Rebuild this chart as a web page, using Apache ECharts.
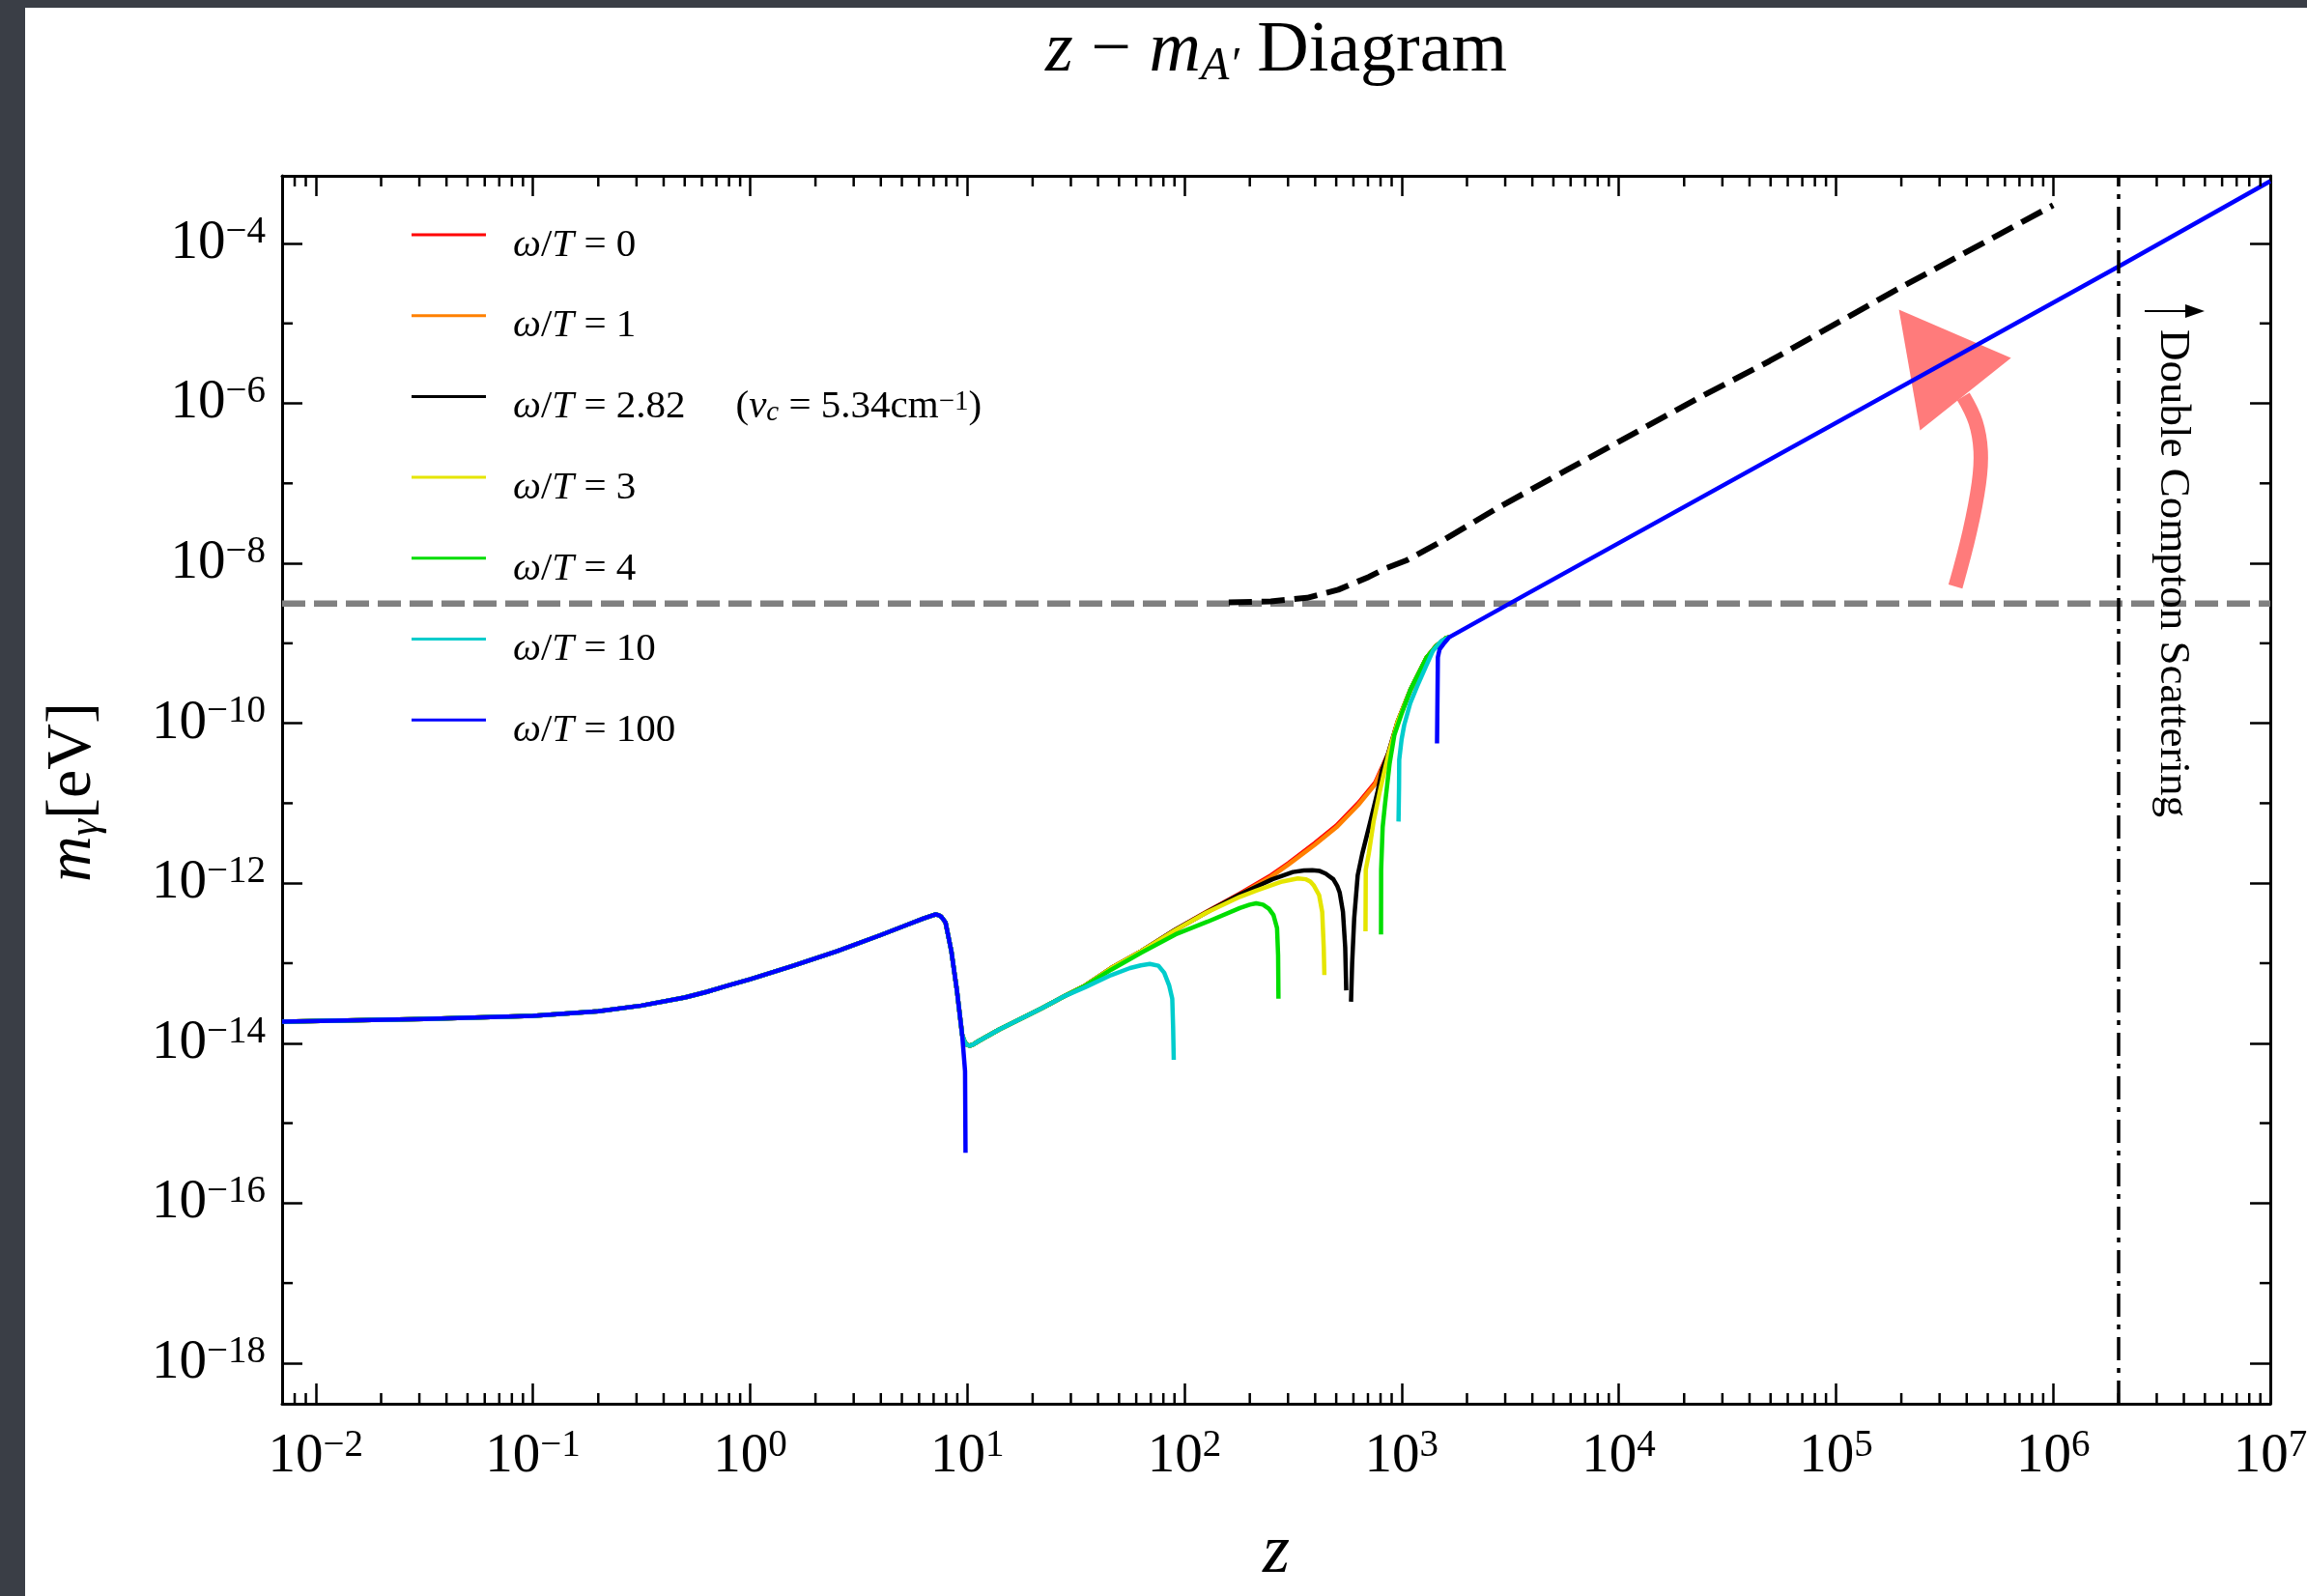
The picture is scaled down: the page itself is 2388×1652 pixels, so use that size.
<!DOCTYPE html>
<html>
<head>
<meta charset="utf-8">
<title>z - m_A' Diagram</title>
<script src="https://cdn.jsdelivr.net/npm/echarts@6/dist/echarts.min.js"></script>
<style>
  html, body { margin: 0; padding: 0; background: #3a3e46; }
  #sheet { position: absolute; left: 26px; top: 8px; width: 2362px; height: 1644px; background: #fff; }
  #main { position: absolute; left: 0; top: 0; width: 2388px; height: 1652px; }
</style>
</head>
<body>
<div id="sheet"></div>
<div id="main"></div>
<script>
var FONT = '"Liberation Serif", "DejaVu Serif", serif';
var GAP = ['-', '-'];

// axis ranges / labelled decades
var zRange = [0.007, 1e7];
var mRange = [3.1e-19, 7e-4];
var xLabelPowers = [-2, -1, 0, 1, 2, 3, 4, 5, 6, 7];
var yLabelPowers = [-18, -16, -14, -12, -10, -8, -6, -4];
var yOddPowers = [-17, -15, -13, -11, -9, -7, -5];

// values: [z, m_gamma (eV)]
// part shared by every curve up to the drop at z ~ 10
var earlyBranch = [
  [0.007, 1.86e-14], [0.0316, 2.0e-14], [0.1, 2.19e-14], [0.2, 2.51e-14], [0.316, 2.95e-14],
  [0.5, 3.72e-14], [0.63, 4.37e-14], [0.79, 5.25e-14], [1.0, 6.3e-14], [1.58, 9.3e-14],
  [2.51, 1.41e-13], [3.98, 2.24e-13], [5.25, 3.0e-13], [6.3, 3.63e-13], [6.9, 3.95e-13],
  [7.16, 4.07e-13], [7.4, 3.98e-13], [7.6, 3.8e-13], [7.94, 3.24e-13], [8.45, 1.41e-13],
  [8.97, 4.47e-14], [9.48, 1.26e-14]
];
// dip at z ~ 10 for every curve except w/T = 100
var dipBranch = [
  [9.75, 1.02e-14], [10.0, 9.5e-15], [10.28, 9.3e-15], [10.7, 9.7e-15], [11.2, 1.05e-14],
  [14.0, 1.48e-14], [22.1, 2.75e-14]
];
var redRise = [
  [28.2, 3.9e-14], [34.9, 5.25e-14], [46.0, 8.7e-14], [63.1, 1.41e-13], [91.0, 2.63e-13],
  [126, 4.37e-13], [180, 7.41e-13], [251, 1.26e-12], [301, 1.78e-12], [398, 3.16e-12],
  [501, 5.25e-12], [631, 1.0e-11], [755, 1.8e-11], [867, 4.17e-11], [959, 1.05e-10],
  [1099, 2.63e-10], [1306, 6.68e-10], [1445, 9.3e-10], [1600, 1.16e-9], [1656, 1.19e-9]
];
var orangeRise = [
  [28.2, 3.9e-14], [34.9, 5.25e-14], [46.0, 8.7e-14], [63.1, 1.41e-13], [91.0, 2.6e-13],
  [126, 4.3e-13], [180, 7.2e-13], [251, 1.21e-12], [301, 1.71e-12], [398, 3.02e-12],
  [501, 5.0e-12], [631, 9.5e-12], [755, 1.72e-11], [867, 4.0e-11], [959, 1.03e-10],
  [1099, 2.6e-10], [1306, 6.68e-10], [1445, 9.3e-10], [1600, 1.16e-9], [1656, 1.19e-9]
];
var blackRise = [
  [28.2, 3.9e-14], [34.9, 5.25e-14], [46.0, 8.7e-14], [63.1, 1.41e-13], [91.0, 2.63e-13],
  [126, 4.3e-13], [180, 7.24e-13], [254, 1.12e-12], [316, 1.38e-12], [355, 1.44e-12],
  [388, 1.45e-12], [420, 1.42e-12], [447, 1.32e-12], [485, 1.12e-12], [505, 9.3e-13],
  [519, 7.6e-13], [537, 4.37e-13], [550, 1.58e-13], [556, 4.57e-14], GAP,
  [585, 3.3e-14], [592, 1.0e-13], [605, 3.63e-13], [628, 1.26e-12], [659, 2.34e-12],
  [718, 5.9e-12], [776, 1.41e-11], [813, 2.6e-11], [867, 4.17e-11], [959, 1.05e-10],
  [1099, 2.63e-10], [1306, 6.68e-10], [1445, 9.3e-10], [1600, 1.16e-9], [1656, 1.19e-9]
];
var yellowRise = [
  [28.2, 3.9e-14], [34.9, 5.25e-14], [46.0, 8.7e-14], [63.1, 1.41e-13], [91.0, 2.6e-13],
  [126, 4.27e-13], [180, 6.76e-13], [214, 8.1e-13], [282, 1.05e-12], [333, 1.15e-12],
  [363, 1.12e-12], [380, 1.05e-12], [395, 9.3e-13], [417, 7.1e-13], [431, 4.37e-13],
  [438, 1.58e-13], [441, 7.1e-14], GAP,
  [682, 2.5e-13], [684, 1.48e-12], [706, 2.34e-12], [743, 5.9e-12], [794, 1.41e-11],
  [867, 4.0e-11], [959, 1.05e-10], [1099, 2.63e-10], [1306, 6.68e-10], [1445, 9.3e-10],
  [1600, 1.16e-9], [1656, 1.19e-9]
];
var greenRise = [
  [28.2, 3.9e-14], [34.9, 5.2e-14], [46.0, 8.3e-14], [63.1, 1.35e-13], [91.0, 2.29e-13],
  [128, 3.31e-13], [180, 4.9e-13], [200, 5.4e-13], [214, 5.6e-13], [230, 5.4e-13],
  [245, 4.8e-13], [257, 4.0e-13], [267, 2.75e-13], [270, 1.26e-13], [271, 3.6e-14], GAP,
  [804, 2.29e-13], [805, 1.48e-12], [818, 5.0e-12], [838, 9.5e-12], [881, 3.16e-11],
  [927, 7.2e-11], [1000, 1.32e-10], [1099, 2.63e-10], [1306, 6.68e-10], [1445, 9.3e-10],
  [1600, 1.16e-9], [1656, 1.19e-9]
];
var cyanRise = [
  [28.2, 3.9e-14], [34.9, 5.0e-14], [46.0, 7.1e-14], [56.2, 8.7e-14], [63.0, 9.4e-14],
  [69.3, 9.8e-14], [75.9, 9.3e-14], [80.7, 7.6e-14], [85.1, 5.25e-14], [87.9, 3.6e-14],
  [88.7, 1.58e-14], [89.3, 6.2e-15], GAP,
  [968, 5.9e-12], [973, 1.58e-11], [975, 3.5e-11], [1000, 6.3e-11], [1028, 9.5e-11],
  [1096, 1.78e-10], [1178, 2.88e-10], [1288, 5.0e-10], [1396, 8.1e-10], [1514, 1.05e-9],
  [1656, 1.19e-9]
];
var blueTail = [
  [9.77, 4.47e-15], [9.82, 4.27e-16], GAP,
  [1456, 5.6e-11], [1469, 6.7e-10], [1496, 8.4e-10], [1574, 1.01e-9], [1656, 1.19e-9],
  [3750, 4.1e-9], [2.14e6, 5.7e-5], [1e7, 6.0e-4]
];
// black dashed curve
var dashedCurve = [
  [160, 3.25e-9], [250, 3.35e-9], [367, 3.7e-9], [511, 4.68e-9], [706, 6.76e-9],
  [850, 8.7e-9], [1047, 1.08e-8], [1449, 1.74e-8], [2786, 4.98e-8], [5715, 1.45e-7],
  [24050, 1.22e-6], [49430, 3.38e-6], [182400, 2.48e-5], [1.0e6, 3.0e-4]
];
// grey dashed level
var grayLevel = [[0.007, 3.13e-9], [1e7, 3.13e-9]];
var doubleComptonZ = 2.0e6;
// pink arrow (data space)
var arrowShaft = [[3.55e5, 5.13e-9], [4.13e5, 2.48e-8], [4.55e5, 9.98e-8], [4.64e5, 2.52e-7], [4.4e5, 5.8e-7], [3.86e5, 1.22e-6]];
var arrowHead = [[1.95e5, 1.49e-5], [6.4e5, 3.71e-6], [2.44e5, 4.6e-7]];

var curveNames = ['w0', 'w1', 'w282', 'w3', 'w4', 'w10', 'w100'];
var curveColors = ['#ff0000', '#ff8000', '#000000', '#e5e500', '#00dd00', '#00cccc', '#0000ff'];
var curveData = [
  earlyBranch.concat(dipBranch, redRise),
  earlyBranch.concat(dipBranch, orangeRise),
  earlyBranch.concat(dipBranch, blackRise),
  earlyBranch.concat(dipBranch, yellowRise),
  earlyBranch.concat(dipBranch, greenRise),
  earlyBranch.concat(dipBranch, cyanRise),
  earlyBranch.concat(blueTail)
];
var legendText = {
  w0: '{i|ω}{r|/}{i|T}{r| = 0}',
  w1: '{i|ω}{r|/}{i|T}{r| = 1}',
  w282: '{i|ω}{r|/}{i|T}{r| = 2.82}{q|(}{i|ν}{sub|c}{r| = 5.34cm}{sup|\u22121}{r|)}',
  w3: '{i|ω}{r|/}{i|T}{r| = 3}',
  w4: '{i|ω}{r|/}{i|T}{r| = 4}',
  w10: '{i|ω}{r|/}{i|T}{r| = 10}',
  w100: '{i|ω}{r|/}{i|T}{r| = 100}'
};

// minor tick positions on the z axis
var xMinor = [];
for (var d = -3; d <= 6; d++) {
  for (var k = 2; k <= 9; k++) {
    var v = k * Math.pow(10, d);
    if (v > zRange[0] && v < zRange[1]) xMinor.push([v, 1e-10]);
  }
}

var myChart = echarts.init(document.getElementById('main'));

var axisLineStyle = { color: '#000', width: 3 };
var tickStyle = { color: '#000', width: 2.5 };
var labelRich = {
  b: { fontFamily: FONT, fontSize: 57, lineHeight: 62, color: '#000', verticalAlign: 'middle' },
  s: { fontFamily: FONT, fontSize: 39, lineHeight: 38, color: '#000', verticalAlign: 'top' }
};
function powLabel(list) {
  return function (v) {
    if (!(v > 0)) return '';
    var l = Math.log10(v), e = Math.round(l);
    if (Math.abs(l - e) > 1e-6 || list.indexOf(e) < 0) return '';
    return '{b|10}{s|' + (e < 0 ? '\u2212' + (-e) : e) + '}';
  };
}
function logAxis(pos, range, base, withLabels, labels) {
  return {
    type: 'log', logBase: base, min: range[0], max: range[1], position: pos,
    splitNumber: 9,
    axisLine: { show: true, lineStyle: axisLineStyle },
    axisTick: { show: true, inside: true, length: 21, lineStyle: tickStyle },
    axisLabel: { show: withLabels, margin: pos === 'bottom' ? 24 : 17, color: '#000',
                 formatter: powLabel(labels), rich: labelRich },
    splitLine: { show: false },
    minorTick: { show: false }
  };
}

var series = [];
// grey dashed level with the double Compton marker on it
series.push({
  name: 'level', type: 'line', data: grayLevel, symbol: 'none', z: 2, silent: true,
  lineStyle: { color: '#808080', width: 6.5, type: [24, 9] },
  markLine: {
    silent: true, symbol: 'none', label: { show: false }, z: 6,
    lineStyle: { color: '#000', width: 3.5, type: [24, 8, 5, 8] },
    data: [{ xAxis: doubleComptonZ }]
  }
});
// pink arrow
series.push({
  type: 'custom', z: 1, silent: true, data: [arrowShaft[0]],
  renderItem: function (params, api) {
    var shaft = arrowShaft.map(function (p) { return api.coord(p); });
    var head = arrowHead.map(function (p) { return api.coord(p); });
    return { type: 'group', children: [
      { type: 'polyline', shape: { points: shaft, smooth: 0.4 },
        style: { stroke: '#ff7b7b', lineWidth: 15, fill: null, lineCap: 'butt' } },
      { type: 'polygon', shape: { points: head }, style: { fill: '#ff7b7b' } }
    ] };
  }
});
series.push({
  name: 'dashed', type: 'line', data: dashedCurve, symbol: 'none', z: 3, silent: true,
  lineStyle: { color: '#000', width: 6, type: [24, 10] }
});
for (var i = 0; i < curveNames.length; i++) {
  series.push({
    name: curveNames[i], type: 'line', data: curveData[i], symbol: 'none', z: 4,
    silent: true, connectNulls: false,
    lineStyle: { color: curveColors[i], width: 4.5, join: 'round' },
    itemStyle: { color: curveColors[i] }
  });
}
// minor ticks on the z axes
series.push({
  type: 'custom', z: 7, silent: true, data: xMinor,
  renderItem: function (params, api) {
    var cs = params.coordSys;
    var x = api.coord([api.value(0), api.value(1)])[0];
    var st = { stroke: '#000', lineWidth: 2.5 };
    return { type: 'group', children: [
      { type: 'line', shape: { x1: x, y1: cs.y + cs.height, x2: x, y2: cs.y + cs.height - 11 }, style: st },
      { type: 'line', shape: { x1: x, y1: cs.y, x2: x, y2: cs.y + 11 }, style: st }
    ] };
  }
});
// short ticks at odd decades on the m axes
series.push({
  type: 'custom', z: 7, silent: true,
  data: yOddPowers.map(function (p) { return [1, Math.pow(10, p)]; }),
  renderItem: function (params, api) {
    var cs = params.coordSys;
    var y = api.coord([api.value(0), api.value(1)])[1];
    var st = { stroke: '#000', lineWidth: 2.5 };
    return { type: 'group', children: [
      { type: 'line', shape: { x1: cs.x, y1: y, x2: cs.x + 11, y2: y }, style: st },
      { type: 'line', shape: { x1: cs.x + cs.width, y1: y, x2: cs.x + cs.width - 11, y2: y }, style: st }
    ] };
  }
});

var textRich = function (size, subSize, subLH, boxLH) {
  return {
    r: { fontFamily: FONT, fontSize: size, lineHeight: boxLH, fill: '#000', color: '#000', verticalAlign: 'middle' },
    i: { fontFamily: FONT, fontStyle: 'italic', fontSize: size, lineHeight: boxLH, fill: '#000', color: '#000', verticalAlign: 'middle' },
    sub: { fontFamily: FONT, fontStyle: 'italic', fontSize: subSize, lineHeight: subLH, fill: '#000', color: '#000', verticalAlign: 'bottom' }
  };
};

var option = {
  animation: false,
  backgroundColor: 'transparent',
  grid: { left: 292, right: 38, top: 182, bottom: 199, containLabel: false, outerBoundsMode: 'none' },
  xAxis: [
    logAxis('bottom', zRange, 10, true, xLabelPowers),
    logAxis('top', zRange, 10, false, xLabelPowers)
  ],
  yAxis: [
    logAxis('left', mRange, 100, true, yLabelPowers),
    logAxis('right', mRange, 100, false, yLabelPowers)
  ],
  legend: {
    orient: 'vertical', left: 426, top: 212, padding: 0,
    icon: 'rect', itemWidth: 77, itemHeight: 3, itemGap: 21.2,
    selectedMode: false,
    data: curveNames,
    formatter: function (name) { return legendText[name]; },
    textStyle: {
      fontFamily: FONT, fontSize: 41, color: '#000', lineHeight: 40, padding: [22, 0, 0, 23],
      rich: {
        r: { fontFamily: FONT, fontSize: 41, lineHeight: 40, color: '#000', verticalAlign: 'middle' },
        i: { fontFamily: FONT, fontStyle: 'italic', fontSize: 41, lineHeight: 40, color: '#000', verticalAlign: 'middle' },
        q: { fontFamily: FONT, fontSize: 41, lineHeight: 40, color: '#000', verticalAlign: 'middle', padding: [0, 0, 0, 52] },
        sub: { fontFamily: FONT, fontStyle: 'italic', fontSize: 29, lineHeight: 18, color: '#000', verticalAlign: 'bottom' },
        sup: { fontFamily: FONT, fontSize: 29, lineHeight: 20, color: '#000', verticalAlign: 'top' }
      }
    }
  },
  graphic: [
    { type: 'text', x: 1321, y: 54, z: 10, style: {
      text: '{i|z}{r| \u2212 }{i|m}{sub|A\u2032}{r| Diagram}',
      rich: textRich(74, 48, 42, 78), align: 'center', verticalAlign: 'middle' } },
    { type: 'text', x: 1321, y: 1608, z: 10, style: {
      text: 'z', font: 'italic 72px ' + FONT, fill: '#000', align: 'center', verticalAlign: 'middle' } },
    { type: 'text', x: 76, y: 820, rotation: Math.PI / 2, z: 10, style: {
      text: '{i|m}{sub|γ}{r|[eV]}',
      rich: textRich(66, 44, 40, 70), align: 'center', verticalAlign: 'middle' } },
    { type: 'text', x: 2249, y: 341, rotation: -Math.PI / 2, z: 10, style: {
      text: 'Double Compton Scattering', font: '45px ' + FONT, fill: '#000',
      align: 'left', verticalAlign: 'middle' } },
    { type: 'line', z: 10, shape: { x1: 2220, y1: 322, x2: 2266, y2: 322 },
      style: { stroke: '#000', lineWidth: 2 } },
    { type: 'polygon', z: 10, shape: { points: [[2282, 322], [2262, 315], [2262, 329]] },
      style: { fill: '#000' } }
  ],
  series: series
};

// 为echarts对象加载数据
myChart.setOption(option);
</script>
</body>
</html>
